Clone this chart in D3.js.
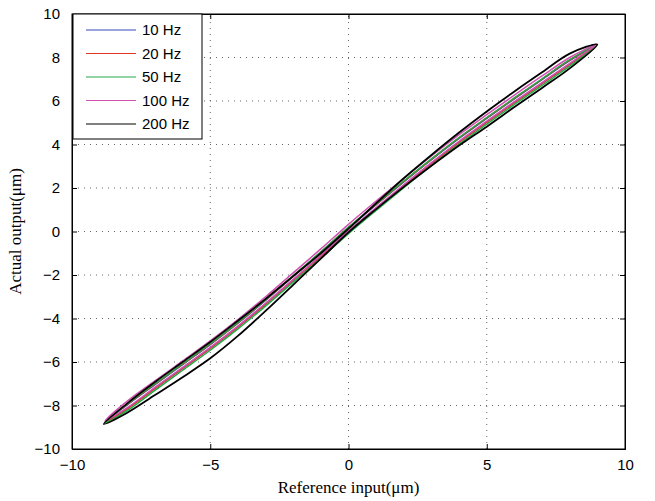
<!DOCTYPE html>
<html>
<head>
<meta charset="utf-8">
<script src="https://cdn.jsdelivr.net/npm/d3@7"></script>
<style>
  body { margin: 0; background: #fff; }
  svg text { font-family: "Liberation Sans", Arial, sans-serif; }
</style>
</head>
<body>
<div id="chart"></div>
<script>
// x positions where both branches of each loop were read
const xs = [-8, -7, -6, -5, -4, -3, -2, -1, 0, 1, 2, 3, 4, 5, 6, 7, 8];

const seriesNames = ['10 Hz', '20 Hz', '50 Hz', '100 Hz', '200 Hz'];
const seriesColors = ['#3848c0', '#e03424', '#24a848', '#d050b0', '#000000'];

// loop tips [x, y]
const tipLeft = [[-8.8, -8.75], [-8.8, -8.75], [-8.8, -8.8], [-8.8, -8.7], [-8.85, -8.85]];
const tipRight = [[8.95, 8.55], [8.95, 8.55], [8.95, 8.55], [8.95, 8.6], [9.0, 8.6]];

// upper (descending) branch
const upper10 = [-7.97, -7.04, -6.12, -5.2, -4.22, -3.17, -2.07, -0.97, 0.16, 1.23, 2.28, 3.3, 4.28, 5.2, 6.1, 6.98, 7.86];
const upper20 = [-7.95, -7.02, -6.1, -5.18, -4.2, -3.15, -2.05, -0.95, 0.18, 1.25, 2.3, 3.32, 4.3, 5.22, 6.12, 7.0, 7.88];
const upper50 = [-7.93, -7.0, -6.08, -5.16, -4.18, -3.13, -2.03, -0.93, 0.2, 1.27, 2.32, 3.34, 4.32, 5.24, 6.14, 7.02, 7.9];
const upper100 = [-7.8, -6.87, -5.95, -5.03, -4.05, -3.0, -1.9, -0.8, 0.33, 1.4, 2.45, 3.47, 4.45, 5.37, 6.27, 7.15, 8.0];
const upper200 = [-7.9, -6.92, -6.0, -5.08, -4.1, -3.1, -2.05, -1.0, 0.13, 1.3, 2.45, 3.52, 4.55, 5.52, 6.44, 7.32, 8.18];

// lower (ascending) branch
const lower10 = [-8.13, -7.2, -6.28, -5.36, -4.38, -3.33, -2.23, -1.13, 0.0, 1.07, 2.12, 3.14, 4.12, 5.04, 5.94, 6.82, 7.7];
const lower20 = [-8.15, -7.22, -6.3, -5.38, -4.4, -3.35, -2.25, -1.15, -0.02, 1.05, 2.1, 3.12, 4.1, 5.02, 5.92, 6.8, 7.68];
const lower50 = [-8.23, -7.3, -6.38, -5.46, -4.48, -3.43, -2.33, -1.23, -0.1, 0.97, 2.02, 3.04, 4.02, 4.94, 5.84, 6.72, 7.6];
const lower100 = [-8.1, -7.17, -6.25, -5.33, -4.35, -3.3, -2.2, -1.1, 0.03, 1.1, 2.15, 3.17, 4.15, 5.07, 5.97, 6.85, 7.73];
const lower200 = [-8.33, -7.52, -6.7, -5.83, -4.8, -3.65, -2.45, -1.25, -0.04, 1.03, 2.05, 3.02, 3.95, 4.82, 5.72, 6.6, 7.5];

const uppers = [upper10, upper20, upper50, upper100, upper200];
const lowers = [lower10, lower20, lower50, lower100, lower200];

const xTicks = [-10, -5, 0, 5, 10];
const yTicks = [-10, -8, -6, -4, -2, 0, 2, 4, 6, 8, 10];

const width = 655;
const height = 501;
const margin = {left: 72, right: 30, top: 14, bottom: 52};

const xScale = d3.scaleLinear()
    .domain([-10, 10])
    .range([margin.left, width - margin.right]);

const yScale = d3.scaleLinear()
    .domain([-10, 10])
    .range([height - margin.bottom, margin.top]);

const svg = d3.select('#chart')
    .append('svg')
    .attr('width', width)
    .attr('height', height);

const fmt = d => (d < 0 ? '\u2212' + Math.abs(d) : '' + d);

// dotted grid
const grid = svg.append('g').attr('class', 'grid');
grid.selectAll('line.gx')
    .data(xTicks.slice(1, -1))
    .enter()
    .append('line')
    .attr('x1', d => xScale(d)).attr('x2', d => xScale(d))
    .attr('y1', yScale(-10)).attr('y2', yScale(10))
    .attr('stroke', '#555').attr('stroke-width', 0.9)
    .attr('stroke-dasharray', '1,5');
grid.selectAll('line.gy')
    .data(yTicks.slice(1, -1))
    .enter()
    .append('line')
    .attr('x1', xScale(-10)).attr('x2', xScale(10))
    .attr('y1', d => yScale(d)).attr('y2', d => yScale(d))
    .attr('stroke', '#555').attr('stroke-width', 0.9)
    .attr('stroke-dasharray', '1,5');

// axes, ticks pointing inward
const xAxis = d3.axisBottom(xScale).tickValues(xTicks).tickSize(-5).tickPadding(10).tickFormat(fmt);
const yAxis = d3.axisLeft(yScale).tickValues(yTicks).tickSize(-5).tickPadding(12).tickFormat(fmt);

svg.append('g')
    .attr('class', 'x-axis')
    .attr('transform', 'translate(0,' + yScale(-10) + ')')
    .call(xAxis);
svg.append('g')
    .attr('class', 'y-axis')
    .attr('transform', 'translate(' + xScale(-10) + ',0)')
    .call(yAxis);
svg.append('g')
    .attr('transform', 'translate(0,' + yScale(10) + ')')
    .call(d3.axisTop(xScale).tickValues(xTicks).tickSize(-5).tickFormat(''));
svg.append('g')
    .attr('transform', 'translate(' + xScale(10) + ',0)')
    .call(d3.axisRight(yScale).tickValues(yTicks).tickSize(-5).tickFormat(''));

svg.selectAll('.domain').attr('stroke', '#000');
svg.selectAll('.tick line').attr('stroke', '#000');
svg.selectAll('.x-axis text, .y-axis text')
    .attr('fill', '#000')
    .style('font-size', '15px')
    .style('font-family', '"Liberation Sans", Arial, sans-serif');

// hysteresis loops
const line = d3.line()
    .x(d => xScale(d[0]))
    .y(d => yScale(d[1]))
    .curve(d3.curveCatmullRomClosed.alpha(0.5));

const loops = seriesNames.map((name, i) => {
    const pts = [tipLeft[i]];
    xs.forEach((x, j) => pts.push([x, uppers[i][j]]));
    pts.push(tipRight[i]);
    for (let j = xs.length - 1; j >= 0; j--) pts.push([xs[j], lowers[i][j]]);
    return pts;
});

svg.append('g')
    .selectAll('path')
    .data(loops)
    .enter()
    .append('path')
    .attr('d', line)
    .attr('fill', 'none')
    .attr('stroke', (d, i) => seriesColors[i])
    .attr('stroke-width', (d, i) => (i === 4 ? 1.8 : 1.5));

// frame
svg.append('rect')
    .attr('x', xScale(-10)).attr('y', yScale(10))
    .attr('width', xScale(10) - xScale(-10))
    .attr('height', yScale(-10) - yScale(10))
    .attr('fill', 'none').attr('stroke', '#000');

// legend
const legend = svg.append('g').attr('transform', 'translate(73,14)');
legend.append('rect')
    .attr('width', 129).attr('height', 125)
    .attr('fill', '#fff').attr('stroke', '#000');
const items = legend.selectAll('g.item')
    .data(seriesNames)
    .enter()
    .append('g')
    .attr('transform', (d, i) => 'translate(0,' + (16 + i * 23.5) + ')');
items.append('line')
    .attr('x1', 13).attr('x2', 63)
    .attr('stroke', (d, i) => seriesColors[i])
    .attr('stroke-width', 1);
items.append('text')
    .attr('x', 69).attr('y', 5)
    .style('font-size', '15px')
    .text(d => d);

// axis titles
svg.append('text')
    .attr('x', xScale(0)).attr('y', 493)
    .attr('text-anchor', 'middle')
    .style('font-family', '"Liberation Serif", "Times New Roman", serif')
    .style('font-size', '17px')
    .text('Reference input(\u03bcm)');
svg.append('text')
    .attr('transform', 'translate(21,' + yScale(0) + ') rotate(-90)')
    .attr('text-anchor', 'middle')
    .style('font-family', '"Liberation Serif", "Times New Roman", serif')
    .style('font-size', '17px')
    .text('Actual output(\u03bcm)');
</script>
</body>
</html>
